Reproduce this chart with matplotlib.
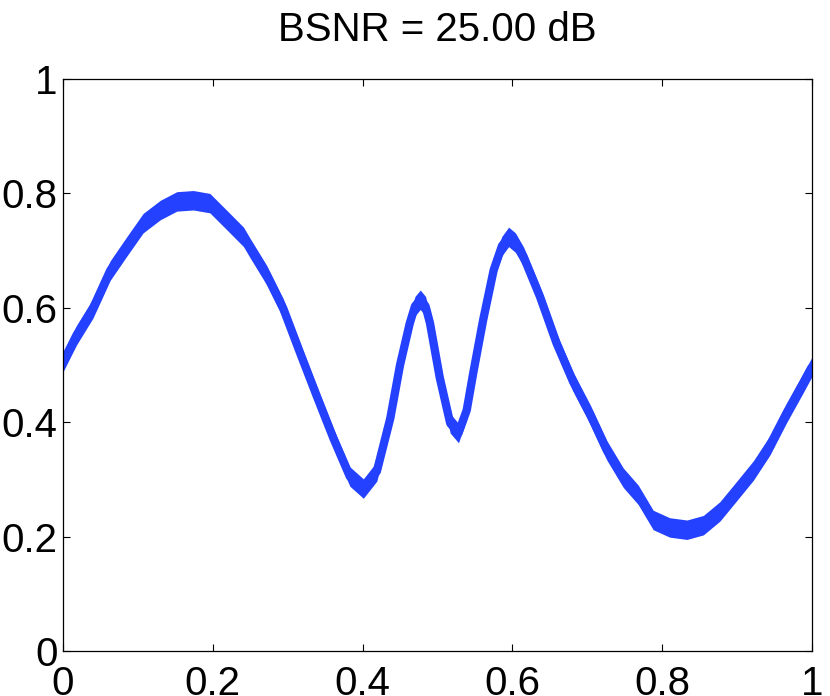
import numpy as np
import matplotlib
matplotlib.use("Agg")
import matplotlib.pyplot as plt

# signal centre line (x in [0, 1])
x_vals = [0.000, 0.018, 0.040, 0.063, 0.085, 0.107, 0.130, 0.152, 0.174, 0.196,
          0.219, 0.241, 0.250, 0.272, 0.294, 0.316, 0.339, 0.361, 0.383, 0.401,
          0.419, 0.437, 0.450, 0.463, 0.470, 0.477, 0.484, 0.490, 0.503, 0.517,
          0.528, 0.539, 0.548, 0.561, 0.575, 0.586, 0.595, 0.604, 0.615, 0.637,
          0.659, 0.681, 0.704, 0.726, 0.748, 0.768, 0.788, 0.810, 0.833, 0.855,
          0.877, 0.899, 0.922, 0.944, 0.966, 0.988, 1.000]
y_vals = [0.505, 0.552, 0.599, 0.665, 0.707, 0.748, 0.771, 0.786, 0.788, 0.783,
          0.753, 0.724, 0.704, 0.657, 0.599, 0.523, 0.445, 0.372, 0.305, 0.284,
          0.314, 0.407, 0.500, 0.573, 0.603, 0.614, 0.603, 0.573, 0.478, 0.398,
          0.381, 0.421, 0.488, 0.579, 0.666, 0.708, 0.724, 0.714, 0.689, 0.619,
          0.538, 0.471, 0.413, 0.351, 0.303, 0.273, 0.229, 0.216, 0.212, 0.220,
          0.244, 0.279, 0.316, 0.360, 0.416, 0.468, 0.497]

title = "BSNR = 25.00 dB"
x_ticks = [0, 0.2, 0.4, 0.6, 0.8, 1]
y_ticks = [0, 0.2, 0.4, 0.6, 0.8, 1]
tick_labels = ["0", "0.2", "0.4", "0.6", "0.8", "1"]

plt.rcParams["font.family"] = ["Liberation Sans", "DejaVu Sans"]

fig = plt.figure(figsize=(8.3, 6.96), dpi=100)
ax = fig.add_axes([63 / 830, 45 / 696, 749 / 830, 572 / 696])

blue = "#2341ff"
x = np.array(x_vals)
y = np.array(y_vals)
noise = 0.017  # half height of the noisy band
ax.fill_between(x, y - noise, y + noise, color=blue, lw=0)
ax.plot(x, y, color=blue, lw=6, solid_capstyle="butt", solid_joinstyle="round")

ax.set_xlim(0, 1)
ax.set_ylim(0, 1)
ax.set_xticks(x_ticks)
ax.set_xticklabels(tick_labels)
ax.set_yticks(y_ticks)
ax.set_yticklabels(tick_labels)
ax.tick_params(direction="in", top=True, right=True, length=5, width=0.8,
               labelsize=29, colors="black")
ax.tick_params(axis="x", pad=10)
ax.tick_params(axis="y", pad=4)
for s in ax.spines.values():
    s.set_linewidth(0.9)
    s.set_color("black")

ax.set_title(title, fontsize=29, pad=27)

fig.savefig("out.png", dpi=100)
